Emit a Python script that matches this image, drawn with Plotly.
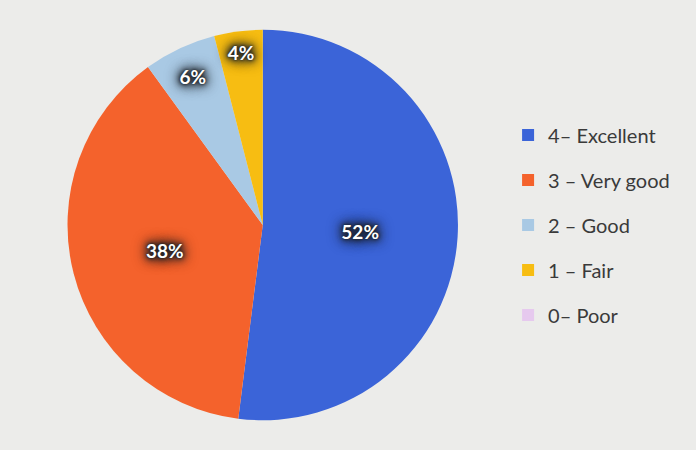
import plotly.graph_objects as go

categories = ["4– Excellent", "3 – Very good", "2 – Good", "1 – Fair", "0– Poor"]
values = [52, 38, 6, 4, 0]
colors = ["#3b64d8", "#f4622c", "#a9c9e4", "#f7bd12", "#e6c9ee"]

fig = go.Figure()
fig.add_trace(go.Pie(
    labels=categories, values=values, sort=False, direction="clockwise", rotation=0,
    marker=dict(colors=colors, line=dict(width=0)),
    textinfo="percent", texttemplate="%{percent:.0%}",
    textposition="inside", insidetextorientation="horizontal",
    textfont=dict(family="Lato", size=19, color="white", weight="bold",
                  shadow="0 0 2px #1d2228, 0 0 4px #1d2228, 0 0 7px #1d2228, 0 0 10px #1d2228, 0 0 13px #1d2228, 0 0 16px #1d2228"),
    showlegend=False, hoverinfo="label+percent",
    domain=dict(x=[0.097, 0.658], y=[0.066, 0.934]),
))
for name, col in zip(categories, colors):
    fig.add_trace(go.Scatter(
        x=[None], y=[None], mode="markers", name=name, legendgroup=name,
        marker=dict(symbol="square", size=12, color=col),
    ))

fig.update_layout(
    width=696, height=450,
    margin=dict(l=0, r=0, t=0, b=0),
    paper_bgcolor="#ececea", plot_bgcolor="rgba(0,0,0,0)",
    xaxis=dict(visible=False), yaxis=dict(visible=False),
    legend=dict(x=0.73, y=0.5, xanchor="left", yanchor="middle",
                font=dict(family="Lato", size=20, color="#3a3a3a"),
                tracegroupgap=16, bgcolor="rgba(0,0,0,0)", itemwidth=30),
)
fig.write_html("out.html", config={"displayModeBar": False},
               post_script="document.body.style.margin='0';document.body.style.background='#ececea';")
